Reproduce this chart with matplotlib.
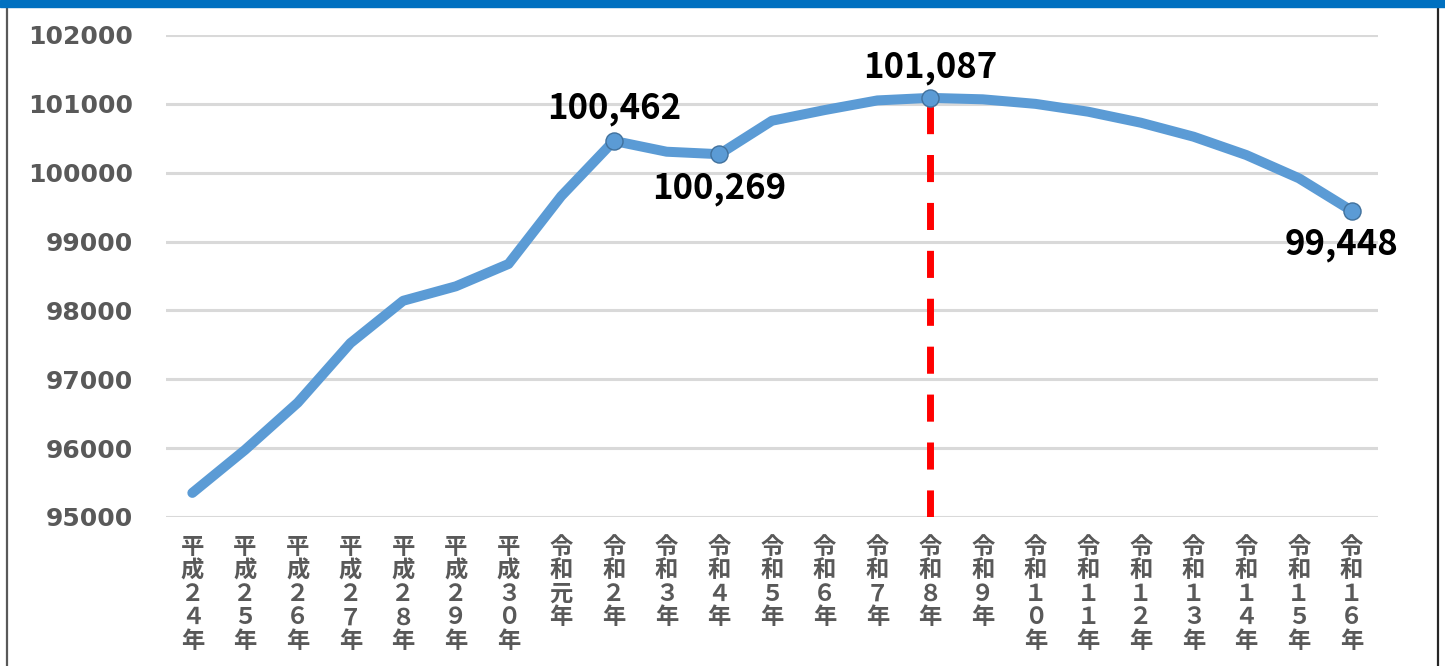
import matplotlib.pyplot as plt
from matplotlib.patches import Rectangle
from matplotlib.lines import Line2D

plt.rcParams['font.family'] = ['Noto Sans CJK JP', 'DejaVu Sans']

# 年次ラベル（縦書き）
years = ['平成２４年', '平成２５年', '平成２６年', '平成２７年', '平成２８年', '平成２９年',
         '平成３０年', '令和元年', '令和２年', '令和３年', '令和４年', '令和５年', '令和６年',
         '令和７年', '令和８年', '令和９年', '令和１０年', '令和１１年', '令和１２年',
         '令和１３年', '令和１４年', '令和１５年', '令和１６年']
values = [95350, 95975, 96660, 97525, 98140, 98350, 98675, 99660, 100462, 100305,
          100269, 100755, 100910, 101050, 101087, 101066, 101000, 100886, 100726,
          100523, 100257, 99919, 99448]
yticks = [95000, 96000, 97000, 98000, 99000, 100000, 101000, 102000]

# 値を表示する点: (index, dx, dy) ※オフセットはポイント単位
marked = [(8, 0, 23), (10, 0, -25), (14, 0, 22), (22, -7, -24)]
peak = 14

W, H = 1445, 666
fig = plt.figure(figsize=(W / 100, H / 100), dpi=100)
ax = fig.add_axes([166 / W, 1 - 517 / H, (1378 - 166) / W, (517 - 35) / H])

x = list(range(len(years)))
ax.plot(x, values, color='#5B9BD5', lw=7.2, solid_capstyle='round',
        solid_joinstyle='round', zorder=3)

# 基準年の縦線
ax.plot([peak, peak], [yticks[0], values[peak]], color='#FF0000', lw=5,
        dashes=(3.9, 3.0), dash_capstyle='butt', zorder=2)

for i, dx, dy in marked:
    ax.plot(x[i], values[i], 'o', ms=12.3, mfc='#5B9BD5', mec='#41719C',
            mew=1.0, zorder=4)
    ax.annotate(f'{values[i]:,}', (x[i], values[i]), xytext=(dx, dy),
                textcoords='offset points', ha='center', va='center',
                fontsize=25, fontweight='bold', color='black', zorder=5)

ax.set_xlim(-0.5, len(years) - 0.5)
ax.set_ylim(yticks[0], yticks[-1])
ax.set_yticks(yticks)
ax.set_yticklabels([str(v) for v in yticks], family='DejaVu Sans',
                   fontweight='bold', fontsize=18, color='#595959')
ax.set_xticks(x)
ax.set_xticklabels(['\n'.join(y) for y in years], fontsize=16.8, color='#595959',
                   fontweight='bold', linespacing=0.97, va='top')
ax.tick_params(axis='both', length=0)
ax.tick_params(axis='y', pad=24)
ax.tick_params(axis='x', pad=13)
for s in ax.spines.values():
    s.set_visible(False)
ax.grid(axis='y', color='#D9D9D9', lw=2.2)
ax.set_axisbelow(True)

# 枠
fig.patches.append(Rectangle((0, 1 - 7 / H), 1, 7 / H, transform=fig.transFigure,
                             color='#0070C0', zorder=10))
fig.lines.append(Line2D([7 / W, 7 / W], [0, 1 - 7 / H], transform=fig.transFigure,
                        color='#595959', lw=1.6))
fig.lines.append(Line2D([1438 / W, 1438 / W], [0, 1 - 7 / H], transform=fig.transFigure,
                        color='#262626', lw=1.6))

fig.savefig('out.png', dpi=100, facecolor='white')
